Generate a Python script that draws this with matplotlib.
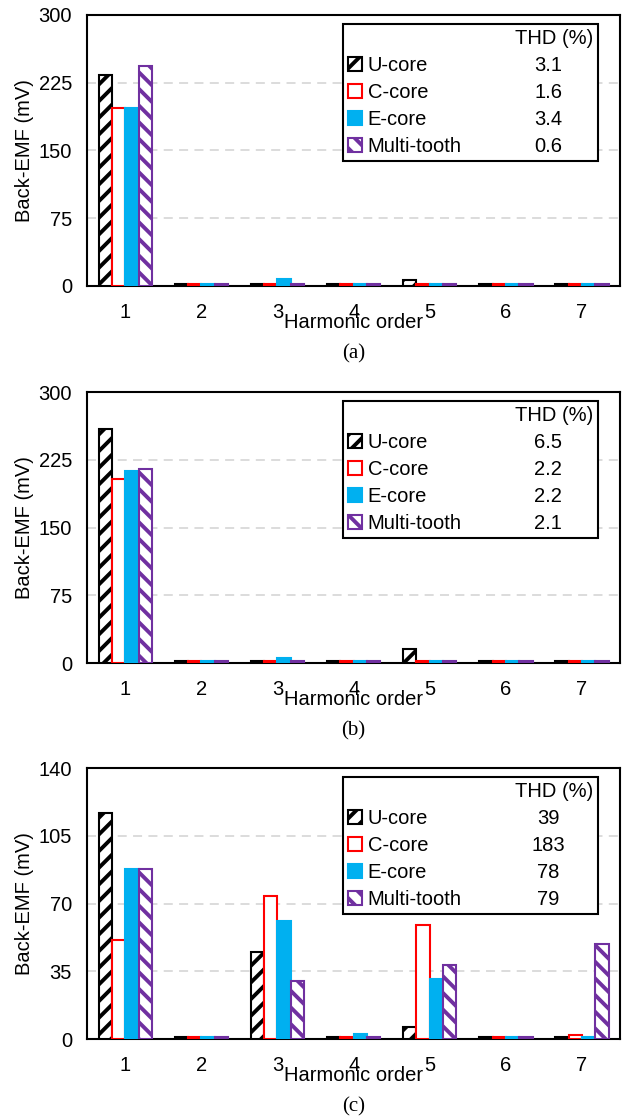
import matplotlib

matplotlib.use("Agg")
import matplotlib.pyplot as plt
import numpy as np
from matplotlib.patches import Patch

# harmonic spectra of the back-EMF
harmonics = ["1", "2", "3", "4", "5", "6", "7"]
series = ["U-core", "C-core", "E-core", "Multi-tooth"]

# (a)
a_ucore = [234, 2.5, 2.5, 2.5, 6.5, 2.5, 2.5]
a_ccore = [197, 2.5, 2.5, 2.5, 2.5, 2.5, 2.5]
a_ecore = [197, 2.5, 7.5, 2.5, 2.5, 2.5, 2.5]
a_multi = [244, 2.5, 2.5, 2.5, 2.5, 2.5, 2.5]
a_thd = ["3.1", "1.6", "3.4", "0.6"]

# (b)
b_ucore = [259, 2.5, 2.5, 2.5, 16, 2.5, 2.5]
b_ccore = [204, 2.5, 2.5, 2.5, 2.5, 2.5, 2.5]
b_ecore = [213, 2.5, 5.5, 2.5, 2.5, 2.5, 2.5]
b_multi = [215, 2.5, 2.5, 2.5, 2.5, 2.5, 2.5]
b_thd = ["6.5", "2.2", "2.2", "2.1"]

# (c)
c_ucore = [117, 1.2, 45, 1.2, 6.2, 1.2, 1.2]
c_ccore = [51, 1.2, 74, 1.2, 59, 1.2, 2.2]
c_ecore = [88, 1.2, 61, 2.4, 31, 1.2, 1.2]
c_multi = [88, 1.2, 30, 1.2, 38, 1.2, 49]
c_thd = ["39", "183", "78", "79"]

a_yticks = [0, 75, 150, 225, 300]
b_yticks = [0, 75, 150, 225, 300]
c_yticks = [0, 35, 70, 105, 140]

styles = [
    dict(facecolor="white", edgecolor="black", hatch="//"),
    dict(facecolor="white", edgecolor="#FF0000"),
    dict(facecolor="#00B0F0", edgecolor="#00B0F0"),
    dict(facecolor="white", edgecolor="#7030A0", hatch="\\\\"),
]

plt.rcParams["font.family"] = ["Liberation Sans", "DejaVu Sans"]
plt.rcParams["hatch.linewidth"] = 2.8

fig = plt.figure(figsize=(6.27, 11.17), dpi=100)
FS = 14.5


def draw_panel(bottom, data, thd, yticks, tag):
    ax = fig.add_axes([0.139, bottom, 0.850, 0.2426])
    x = np.arange(len(harmonics))
    w = 0.175
    handles = []
    for i, (vals, st) in enumerate(zip(data, styles)):
        bc = ax.bar(x + (i - 1.5) * w, vals, w, linewidth=1.5, zorder=3, **st)
        handles.append(bc)

    ax.set_xlim(-0.5, len(harmonics) - 0.5)
    ax.set_ylim(yticks[0], yticks[-1])
    ax.set_yticks(yticks)
    ax.set_xticks(x, harmonics)
    ax.tick_params(length=0, labelsize=FS)
    ax.tick_params(axis="y", pad=11)
    ax.tick_params(axis="x", pad=12)
    ax.yaxis.grid(True, color="#D9D9D9", linestyle=(0, (5, 3.5)), linewidth=1.3, zorder=0)
    for s in ax.spines.values():
        s.set_linewidth(1.5)
        s.set_color("black")
    ax.set_ylabel("Back-EMF (mV)", fontsize=FS, labelpad=3)
    ax.set_xlabel("Harmonic order", fontsize=FS, labelpad=-6)
    ax.text(0.5, -0.25, tag, transform=ax.transAxes, ha="center", va="center",
            fontsize=15, family=["Liberation Serif", "DejaVu Serif"])

    blank = Patch(facecolor="none", edgecolor="none")
    leg = ax.legend(
        [blank] + handles + [blank] * 5,
        [""] + series + ["THD (%)"] + thd,
        ncol=2, loc="upper right", bbox_to_anchor=(0.959, 0.967),
        fontsize=FS, frameon=True, fancybox=False, framealpha=1,
        edgecolor="black", handlelength=0.65, handleheight=0.65,
        handletextpad=0.3, labelspacing=0.4, columnspacing=1.7,
        borderpad=0.25, borderaxespad=0,
    )
    leg.get_frame().set_linewidth(1.5)
    leg.set_zorder(5)
    return ax, leg


legs = []
for bottom, data, thd, yt, tag in [
    (0.744, [a_ucore, a_ccore, a_ecore, a_multi], a_thd, a_yticks, "(a)"),
    (0.4064, [b_ucore, b_ccore, b_ecore, b_multi], b_thd, b_yticks, "(b)"),
    (0.0698, [c_ucore, c_ccore, c_ecore, c_multi], c_thd, c_yticks, "(c)"),
]:
    legs.append(draw_panel(bottom, data, thd, yt, tag)[1])

# centre the THD values under their column header
fig.canvas.draw()
r = fig.canvas.get_renderer()
for leg in legs:
    texts = leg.get_texts()
    head = texts[5].get_window_extent(r)
    cx = 0.5 * (head.x0 + head.x1) - 6
    for t in texts[6:]:
        bb = t.get_window_extent(r)
        t.set_x(cx - 0.5 * (bb.x0 + bb.x1))

fig.savefig("out.png", dpi=100)
